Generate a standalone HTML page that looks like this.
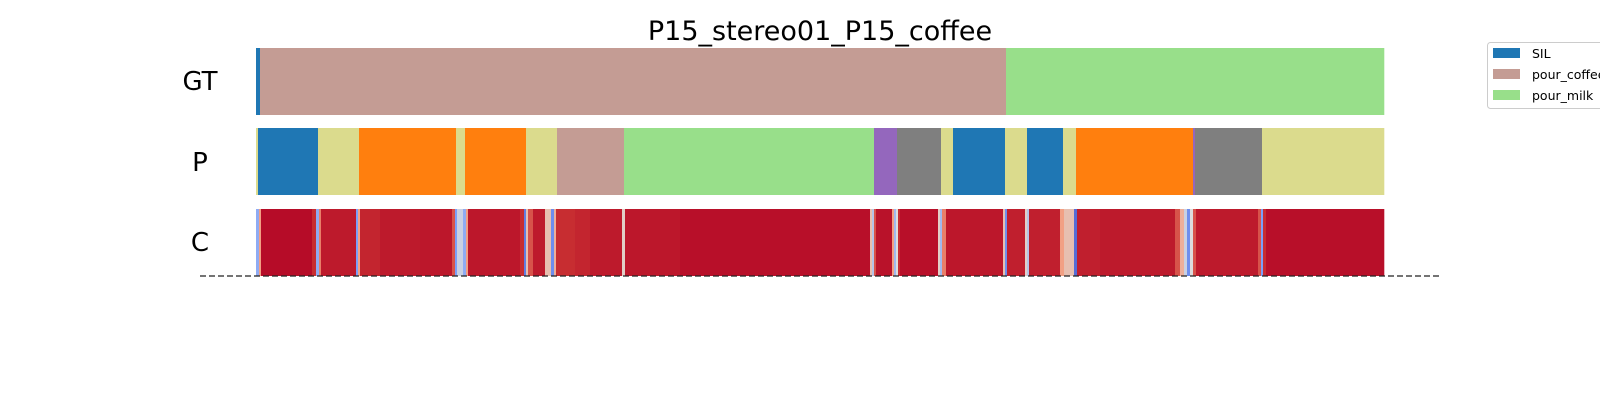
<!DOCTYPE html>
<html><head><meta charset="utf-8"><style>
html,body{margin:0;padding:0;background:#fff;}
svg{display:block;font-family:"DejaVu Sans","Liberation Sans",sans-serif;}
</style></head><body>
<svg id="chart" width="1600" height="400" xmlns="http://www.w3.org/2000/svg">
<text x="820" y="40" text-anchor="middle" font-size="27" fill="#000">P15_stereo01_P15_coffee</text>
<text x="200" y="90" text-anchor="middle" font-size="26">GT</text>
<text x="200" y="171" text-anchor="middle" font-size="26">P</text>
<text x="200" y="251" text-anchor="middle" font-size="26">C</text>
<g id="rows"></g>
<line x1="200" y1="276" x2="1440" y2="276" stroke="#222" stroke-width="1.3" stroke-dasharray="6,3"/>
<g>
<rect x="1487.5" y="42.5" width="130" height="66" rx="3" fill="#fff" stroke="#ccc"/>
<rect x="1493" y="48" width="27" height="10" fill="#1f77b4"/>
<text x="1532" y="58" font-size="12.5">SIL</text>
<rect x="1493" y="69" width="27" height="10" fill="#c49c94"/>
<text x="1532" y="79" font-size="12.5">pour_coffee</text>
<rect x="1493" y="90" width="27" height="10" fill="#98df8a"/>
<text x="1532" y="100" font-size="12.5">pour_milk</text>
</g>
</svg>
<script>
const totalFrames = 1128;
const gtStarts = [0, 4, 750];
const gtLabels = ["SIL", "pour_coffee", "pour_milk"];
const pStarts = [0, 2, 62, 103, 200, 209, 270, 301, 368, 618, 641, 685, 697, 749, 771, 807, 820, 937, 939, 1006];
const pLabels = ["khaki","SIL","khaki","orange","khaki","orange","khaki","pour_coffee","pour_milk","purple","gray","khaki","SIL","khaki","SIL","khaki","orange","purple","gray","khaki"];
const confStarts = [0,3,5,56,60,63,65,100,102,104,124,164,196,199,201,207,210,212,264,268,270,272,277,289,295,298,300,319,334,366,369,424,614,616,618,620,636,638,640,642,644,682,684,686,690,747,749,751,769,771,773,804,808,818,821,844,919,924,928,931,934,937,940,1002,1005,1007,1010];
const confValues = [.3,.7,.97,.85,.3,.75,.92,.25,.7,.88,.92,.93,.8,.25,.45,.3,.7,.93,.85,.15,.6,.8,.92,.6,.2,.65,.85,.88,.92,.55,.93,.96,.6,.4,.8,.95,.7,.35,.5,.85,.96,.55,.35,.75,.93,.6,.2,.9,.55,.4,.9,.7,.6,.1,.9,.92,.8,.65,.45,.2,.5,.8,.92,.8,.25,.85,.96];

const colors = {SIL:"#1f77b4", pour_coffee:"#c49c94", pour_milk:"#98df8a", khaki:"#dbdb8d", orange:"#ff7f0e", purple:"#9467bd", gray:"#7f7f7f"};
const X0 = 256, X1 = 1384;
function xScale(f){ return X0 + (X1 - X0) * f / totalFrames; }
const anchors = [[0,[59,76,192]],[0.25,[123,159,249]],[0.5,[221,221,221]],[0.72,[244,154,123]],[0.84,[200,48,50]],[1,[178,4,38]]];
function coolwarm(v){
  for (let i=0;i<anchors.length-1;i++){
    const a=anchors[i], b=anchors[i+1];
    if (v<=b[0]){ const t=(v-a[0])/(b[0]-a[0]); const c=a[1].map((x,k)=>Math.round(x+(b[1][k]-x)*t)); return `rgb(${c[0]},${c[1]},${c[2]})`; }
  }
  return "rgb(178,4,38)";
}
const NS="http://www.w3.org/2000/svg";
const g=document.getElementById("rows");
function drawRow(starts, y, h, fillFn, name){
  for (let i=0;i<starts.length;i++){
    const x=xScale(starts[i]);
    const xe=xScale(i+1<starts.length?starts[i+1]:totalFrames);
    const r=document.createElementNS(NS,"rect");
    r.setAttribute("x",x); r.setAttribute("y",y);
    r.setAttribute("width",Math.max(0,xe-x)+0.3); r.setAttribute("height",h);
    r.setAttribute("fill",fillFn(i));
    
    
    g.appendChild(r);
  }
}
drawRow(gtStarts, 48, 67, i=>colors[gtLabels[i]], 'gt');
drawRow(pStarts, 128, 67, i=>colors[pLabels[i]], 'p');
drawRow(confStarts, 209, 67, i=>coolwarm(confValues[i]), 'confidence');
</script>
</body></html>
